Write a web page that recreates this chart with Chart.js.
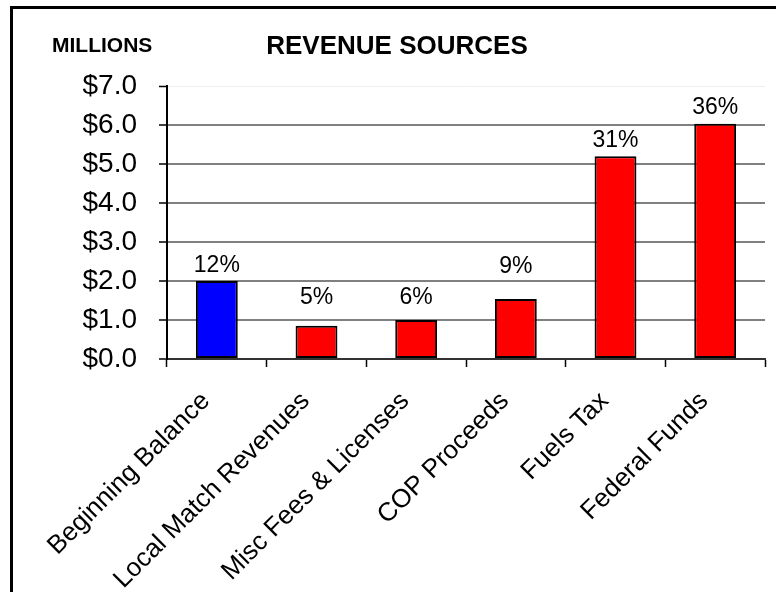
<!DOCTYPE html>
<html>
<head>
<meta charset="utf-8">
<title>Revenue Sources</title>
<script src="https://cdn.jsdelivr.net/npm/chart.js@4"></script>
<style>
  html, body { margin: 0; padding: 0; background: #fff; }
  #wrap { width: 776px; height: 592px; position: relative; }
</style>
</head>
<body>
<div id="wrap"><canvas id="revenueChart" width="776" height="592"></canvas></div>
<script>
const categories = [
  "Beginning Balance",
  "Local Match Revenues",
  "Misc Fees & Licenses",
  "COP Proceeds",
  "Fuels Tax",
  "Federal Funds"
];
// millions of dollars
const amounts = [2.0, 0.85, 1.0, 1.54, 5.2, 6.03];
const barColors = ["#0000ff", "#ff0000", "#ff0000", "#ff0000", "#ff0000", "#ff0000"];
const yTicks = [0, 1, 2, 3, 4, 5, 6, 7];

const FONT = "'Liberation Sans', Arial, sans-serif";
const total = amounts.reduce((s, v) => s + v, 0);

// Frame, headings and share-of-total labels
const decorations = {
  id: "decorations",
  beforeDraw(chart) {
    const ctx = chart.ctx;
    ctx.save();
    ctx.fillStyle = "#fff";
    ctx.fillRect(0, 0, chart.width, chart.height);
    ctx.strokeStyle = "#000";
    ctx.lineWidth = 3;
    ctx.beginPath();
    ctx.moveTo(11.5, chart.height + 5);
    ctx.lineTo(11.5, 7.5);
    ctx.lineTo(chart.width + 5, 7.5);
    ctx.stroke();

    ctx.fillStyle = "#000";
    ctx.textBaseline = "alphabetic";
    ctx.font = "bold 21px " + FONT;
    ctx.textAlign = "left";
    ctx.fillText("MILLIONS", 52, 52);
    ctx.font = "bold 26px " + FONT;
    ctx.textAlign = "center";
    ctx.fillText("REVENUE SOURCES", 397, 54);
    ctx.restore();
  },
  afterDatasetsDraw(chart, args, opts) {
    const ctx = chart.ctx;
    const meta = chart.getDatasetMeta(0);
    ctx.save();
    ctx.fillStyle = "#000";
    ctx.font = "23px " + FONT;
    ctx.textAlign = "center";
    ctx.textBaseline = "alphabetic";
    meta.data.forEach((bar, i) => {
      const pct = Math.round(amounts[i] / total * 100) + "%";
      ctx.fillText(pct, bar.x, bar.y - opts.lift[i]);
    });
    ctx.restore();
  }
};

const chart = new Chart(document.getElementById("revenueChart"), {
  type: "bar",
  data: {
    labels: categories,
    datasets: [{
      data: amounts,
      backgroundColor: barColors,
      borderColor: "#000",
      borderWidth: 2,
      borderSkipped: false,
      categoryPercentage: 1,
      barPercentage: 0.42
    }]
  },
  options: {
    responsive: false,
    animation: false,
    layout: { padding: { top: 86, right: 11, left: 0, bottom: 0 } },
    plugins: {
      legend: { display: false },
      tooltip: { enabled: false },
      decorations: { lift: [9, 22, 16, 26, 9, 10] }
    },
    scales: {
      x: {
        grid: {
          drawOnChartArea: false,
          drawTicks: true,
          tickLength: 8,
          tickColor: "#000",
          tickWidth: 1.5,
          offset: true
        },
        border: { display: true, color: "#333", width: 2 },
        ticks: {
          autoSkip: false,
          minRotation: 45,
          maxRotation: 45,
          padding: 19,
          labelOffset: -11,
          color: "#000",
          font: { family: FONT, size: 26 }
        },
        afterFit(scale) { scale.height = 233; }
      },
      y: {
        min: yTicks[0],
        max: yTicks[yTicks.length - 1],
        afterBuildTicks(scale) { scale.ticks = yTicks.map(v => ({ value: v })); },
        grid: {
          color: ctx => ctx.tick && ctx.tick.value === 7 ? "#eeeeee" : "#808080",
          lineWidth: ctx => ctx.tick && ctx.tick.value === 7 ? 1 : 2,
          drawTicks: true,
          tickLength: 8,
          tickColor: "#000",
          tickWidth: 1.5
        },
        border: { display: true, color: "#000", width: 2 },
        ticks: {
          padding: 22,
          color: "#000",
          font: { family: FONT, size: 28 },
          callback: v => "$" + Number(v).toFixed(1)
        },
        afterFit(scale) { scale.width = 167; }
      }
    }
  },
  plugins: [decorations]
});
</script>
</body>
</html>
